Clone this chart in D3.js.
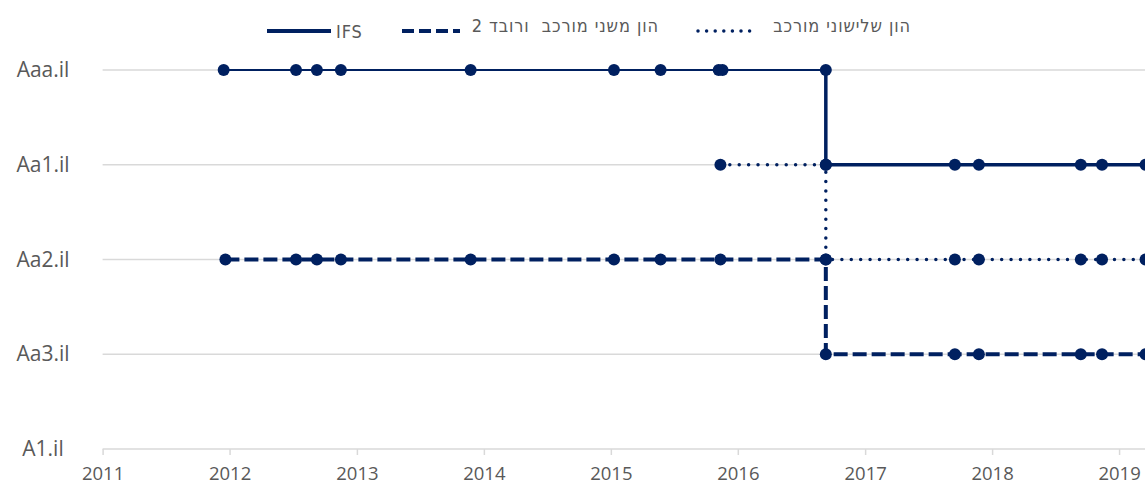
<!DOCTYPE html>
<html>
<head>
<meta charset="utf-8">
<title>Ratings</title>
<script src="https://cdn.jsdelivr.net/npm/d3@7"></script>
<style>
  body { margin: 0; background: #fff; }
  svg { display: block; }
  .lbl { font-family: "Open Sans", sans-serif; fill: #595959; }
  .leg { font-family: "DejaVu Sans Condensed", sans-serif; fill: #595959; font-size: 18px; letter-spacing: 0.9px; white-space: pre; }
</style>
</head>
<body>
<svg width="1145" height="485"></svg>

<script>
    // rating scale (top to bottom)
    const ratings = ["Aaa.il", "Aa1.il", "Aa2.il", "Aa3.il", "A1.il"];
    const years = [2011, 2012, 2013, 2014, 2015, 2016, 2017, 2018, 2019];

    // IFS
    const ifsDates = ["2011-12-15","2012-07-10","2012-09-08","2012-11-16","2013-11-24","2015-01-10","2015-05-24","2015-11-07","2015-11-18","2016-09-10","2016-09-10","2017-09-16","2017-11-24","2018-09-13","2018-11-13","2019-03-18"];
    const ifsRatings = ["Aaa.il","Aaa.il","Aaa.il","Aaa.il","Aaa.il","Aaa.il","Aaa.il","Aaa.il","Aaa.il","Aaa.il","Aa1.il","Aa1.il","Aa1.il","Aa1.il","Aa1.il","Aa1.il"];

    // tier 2 / subordinated
    const tier2Dates = ["2011-12-20","2012-07-10","2012-09-08","2012-11-16","2013-11-24","2015-01-10","2015-05-24","2015-11-12","2016-09-10","2016-09-10","2017-09-16","2017-11-24","2018-09-13","2018-11-13","2019-03-18"];
    const tier2Ratings = ["Aa2.il","Aa2.il","Aa2.il","Aa2.il","Aa2.il","Aa2.il","Aa2.il","Aa2.il","Aa2.il","Aa3.il","Aa3.il","Aa3.il","Aa3.il","Aa3.il","Aa3.il"];

    // tier 3
    const tier3Dates = ["2015-11-12","2016-09-10","2016-09-10","2017-09-16","2017-11-24","2018-09-13","2018-11-13","2019-03-18"];
    const tier3Ratings = ["Aa1.il","Aa1.il","Aa2.il","Aa2.il","Aa2.il","Aa2.il","Aa2.il","Aa2.il"];

    const legendLabels = ["IFS", "הון משני מורכב  ורובד 2", "הון שלישוני מורכב"];

    const navy = "#002060";
    const parse = d3.timeParse("%Y-%m-%d");
    const zip = (ds, rs) => ds.map((d, i) => ({date: parse(d), rating: rs[i]}));

    const ifs = zip(ifsDates, ifsRatings);
    const tier2 = zip(tier2Dates, tier2Ratings);
    const tier3 = zip(tier3Dates, tier3Ratings);

    const svg = d3.select("svg");

    const x = d3.scaleTime()
        .domain([new Date(2011, 0, 1), new Date(2020, 0, 1)])
        .range([102.6, 102.6 + 9 * 127.05]);
    const y = d3.scalePoint()
        .domain(ratings)
        .range([70, 449]);

    // gridlines
    svg.append("g").selectAll("line")
        .data(ratings.slice(0, -1)).enter().append("line")
            .attr("x1", x.range()[0])
            .attr("x2", 1145)
            .attr("y1", d => y(d))
            .attr("y2", d => y(d))
            .attr("stroke", "#d9d9d9")
            .attr("stroke-width", 1.5);

    // x axis
    const xAxis = svg.append("g")
        .attr("transform", "translate(0," + y("A1.il") + ")")
        .call(d3.axisBottom(x)
            .tickValues(years.map(v => new Date(v, 0, 1)))
            .tickFormat(d3.timeFormat("%Y"))
            .tickSize(6)
            .tickPadding(12));
    xAxis.select(".domain").attr("stroke", "#d9d9d9").attr("stroke-width", 1.5).attr("d", "M" + x.range()[0] + ",0H1145");
    xAxis.selectAll(".tick line").attr("stroke", "#d9d9d9").attr("stroke-width", 1.5);
    xAxis.selectAll(".tick text")
        .attr("class", "lbl")
        .attr("font-size", "18.5px")
        .attr("fill", "#595959");

    // y labels
    svg.append("g").selectAll("text")
        .data(ratings).enter().append("text")
            .attr("class", "lbl")
            .attr("x", 43)
            .attr("y", d => y(d) + 7)
            .attr("text-anchor", "middle")
            .attr("font-size", "21px")
            .text(d => d);

    const line = d3.line()
        .x(d => x(d.date))
        .y(d => y(d.rating));

    const plot = svg.append("g");

    // IFS: thin before the downgrade, thicker after
    const cut = ifs.findIndex(d => d.rating !== "Aaa.il");
    plot.append("path")
        .attr("d", line(ifs.slice(0, cut)))
        .attr("fill", "none").attr("stroke", navy).attr("stroke-width", 2);
    plot.append("path")
        .attr("d", line(ifs.slice(cut - 1)))
        .attr("fill", "none").attr("stroke", navy).attr("stroke-width", 3.5);

    plot.append("path")
        .attr("d", line(tier2))
        .attr("fill", "none").attr("stroke", navy).attr("stroke-width", 4)
        .attr("stroke-dasharray", "14,5");

    plot.append("path")
        .attr("d", line(tier3))
        .attr("fill", "none").attr("stroke", navy).attr("stroke-width", 3.5)
        .attr("stroke-linecap", "round")
        .attr("stroke-dasharray", "0,9.4");

    // markers
    plot.selectAll("circle")
        .data(ifs.concat(tier2, tier3)).enter().append("circle")
            .attr("cx", d => x(d.date))
            .attr("cy", d => y(d.rating))
            .attr("r", 6)
            .attr("fill", navy);

    // legend
    const leg = svg.append("g");
    leg.append("line").attr("x1", 267).attr("x2", 331).attr("y1", 31).attr("y2", 31)
        .attr("stroke", navy).attr("stroke-width", 4);
    leg.append("text").attr("class", "leg").attr("x", 336).attr("y", 38).text(legendLabels[0]);

    leg.append("line").attr("x1", 402).attr("x2", 460).attr("y1", 31).attr("y2", 31)
        .attr("stroke", navy).attr("stroke-width", 4).attr("stroke-dasharray", "12,5");
    leg.append("text").attr("class", "leg").attr("x", 659).attr("y", 32).attr("text-anchor", "end").text(legendLabels[1]);

    leg.append("line").attr("x1", 698).attr("x2", 754).attr("y1", 31).attr("y2", 31)
        .attr("stroke", navy).attr("stroke-width", 3.5)
        .attr("stroke-linecap", "round").attr("stroke-dasharray", "0,8.6");
    leg.append("text").attr("class", "leg").attr("x", 911).attr("y", 32).attr("text-anchor", "end").text(legendLabels[2]);
</script>
</body>
</html>
